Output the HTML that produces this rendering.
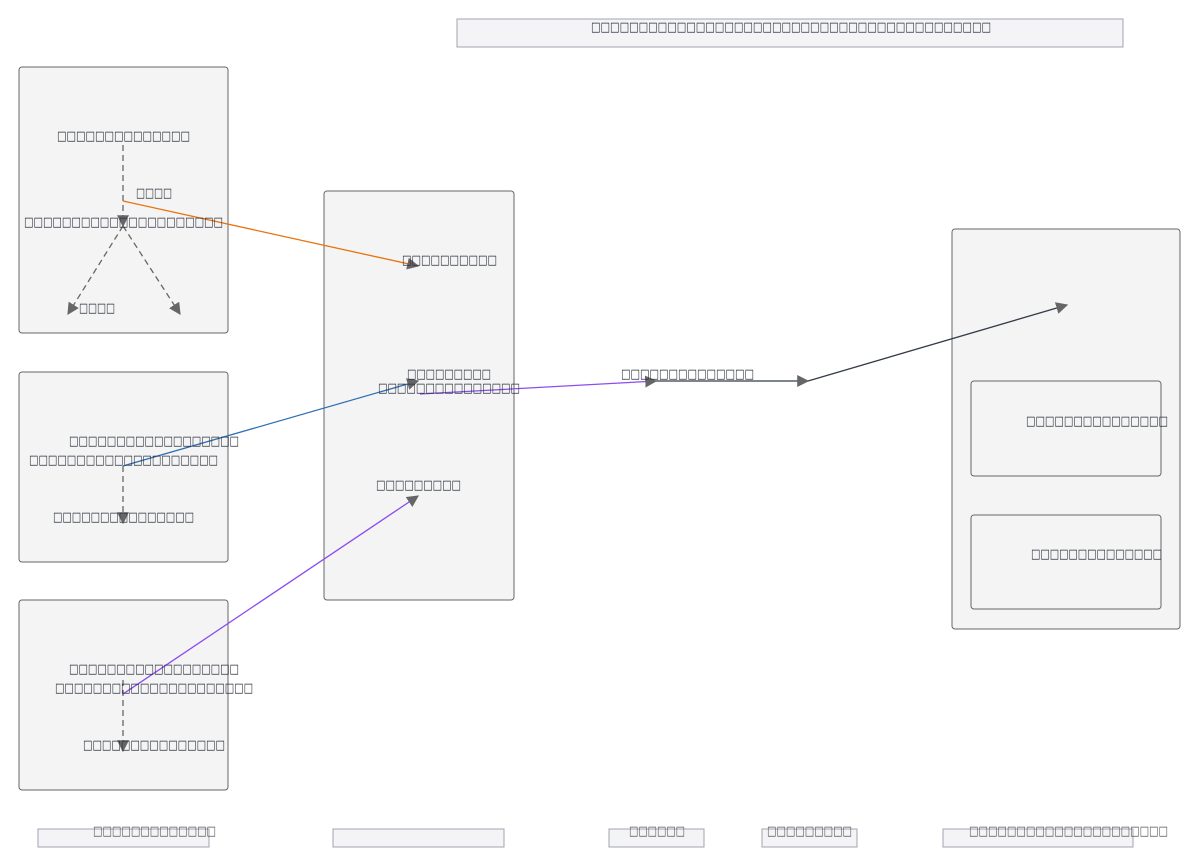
<!DOCTYPE html>
<html><head><meta charset="utf-8"><style>body{margin:0;background:#fff}svg{display:block}text{font-family:"DejaVu Sans",sans-serif;font-size:13px;fill:#2a2f3a}</style></head><body>
<svg width="1200" height="867" viewBox="0 0 1200 867">
<defs>
<marker id="a" viewBox="0 0 10 10" refX="9" refY="5" markerWidth="12" markerHeight="12" markerUnits="userSpaceOnUse" orient="auto"><path d="M0,0L10,5L0,10z" fill="#666"/></marker>
</defs>
<rect x="457" y="19" width="666" height="28" fill="#f4f4f6" stroke="#a0a4b0"/>
<rect x="19" y="67" width="209" height="266" rx="3" fill="#f4f4f4" stroke="#666"/>
<rect x="19" y="372" width="209" height="190" rx="3" fill="#f4f4f4" stroke="#666"/>
<rect x="19" y="600" width="209" height="190" rx="3" fill="#f4f4f4" stroke="#666"/>
<rect x="324" y="191" width="190" height="409" rx="3" fill="#f4f4f4" stroke="#666"/>
<rect x="952" y="229" width="228" height="400" rx="3" fill="#f4f4f4" stroke="#666"/>
<rect x="971" y="381" width="190" height="95" rx="3" fill="#f4f4f4" stroke="#666"/>
<rect x="971" y="515" width="190" height="94" rx="3" fill="#f4f4f4" stroke="#666"/>
<g fill="#f4f4f6" stroke="#a0a4b0">
<rect x="38" y="829" width="171" height="18"/><rect x="333" y="829" width="171" height="18"/>
<rect x="609" y="829" width="95" height="18"/><rect x="762" y="829" width="95" height="18"/>
<rect x="943" y="829" width="190" height="18"/></g>
<g stroke="#666" stroke-width="1.3" stroke-dasharray="6,4" fill="none">
<path d="M123,145V226" marker-end="url(#a)"/>
<path d="M123,226L68,314" marker-end="url(#a)"/>
<path d="M123,226L180,314" marker-end="url(#a)"/>
<path d="M123,466V523" marker-end="url(#a)"/>
<path d="M123,680V751" marker-end="url(#a)"/>
</g>
<g fill="none" stroke-width="1.3">
<path d="M123,201L418,266" stroke="#e8720c" marker-end="url(#a)"/>
<path d="M123,466L418,381" stroke="#2f6db3" marker-end="url(#a)"/>
<path d="M123,694L418,496" stroke="#8b4cf0" marker-end="url(#a)"/>
<path d="M420,394L656,381" stroke="#8b4cf0" marker-end="url(#a)"/>
<path d="M656,381H808" stroke="#333a48" marker-end="url(#a)"/>
<path d="M808,381L1067,305" stroke="#333a48" marker-end="url(#a)"/>
</g>
<g>
<text x="591" y="31" textLength="400" lengthAdjust="spacingAndGlyphs">□□□□□□□□□□□□□□□□□□□□□□□□□□□□□□□□□□□□□□□□□□</text>
<text x="57" y="140" textLength="133" lengthAdjust="spacingAndGlyphs">□□□□□□□□□□□□□□</text>
<text x="136" y="197" textLength="36" lengthAdjust="spacingAndGlyphs">□□□□</text>
<text x="24" y="226" textLength="199" lengthAdjust="spacingAndGlyphs">□□□□□□□□□□□□□□□□□□□□□</text>
<text x="79" y="312" textLength="36" lengthAdjust="spacingAndGlyphs">□□□□</text>
<text x="402" y="264" textLength="95" lengthAdjust="spacingAndGlyphs">□□□□□□□□□□</text>
<text x="407" y="378" textLength="84" lengthAdjust="spacingAndGlyphs">□□□□□□□□□</text>
<text x="378" y="392" textLength="142" lengthAdjust="spacingAndGlyphs">□□□□□□□□□□□□□□□</text>
<text x="376" y="489" textLength="85" lengthAdjust="spacingAndGlyphs">□□□□□□□□□</text>
<text x="621" y="378" textLength="133" lengthAdjust="spacingAndGlyphs">□□□□□□□□□□□□□□</text>
<text x="69" y="445" textLength="170" lengthAdjust="spacingAndGlyphs">□□□□□□□□□□□□□□□□□□</text>
<text x="29" y="464" textLength="189" lengthAdjust="spacingAndGlyphs">□□□□□□□□□□□□□□□□□□□□</text>
<text x="53" y="521" textLength="141" lengthAdjust="spacingAndGlyphs">□□□□□□□□□□□□□□□</text>
<text x="69" y="673" textLength="170" lengthAdjust="spacingAndGlyphs">□□□□□□□□□□□□□□□□□□</text>
<text x="55" y="692" textLength="198" lengthAdjust="spacingAndGlyphs">□□□□□□□□□□□□□□□□□□□□□</text>
<text x="83" y="749" textLength="142" lengthAdjust="spacingAndGlyphs">□□□□□□□□□□□□□□□</text>
<text x="1026" y="425" textLength="142" lengthAdjust="spacingAndGlyphs">□□□□□□□□□□□□□□□</text>
<text x="1031" y="558" textLength="131" lengthAdjust="spacingAndGlyphs">□□□□□□□□□□□□□□</text>
<text x="93" y="835" textLength="123" lengthAdjust="spacingAndGlyphs" style="fill:#555">□□□□□□□□□□□□□</text>
<text x="629" y="835" textLength="56" lengthAdjust="spacingAndGlyphs" style="fill:#555">□□□□□□</text>
<text x="767" y="835" textLength="85" lengthAdjust="spacingAndGlyphs" style="fill:#555">□□□□□□□□□</text>
<text x="969" y="835" textLength="199" lengthAdjust="spacingAndGlyphs" style="fill:#555">□□□□□□□□□□□□□□□□□□□□□</text>
</g>
</svg>
</body></html>
